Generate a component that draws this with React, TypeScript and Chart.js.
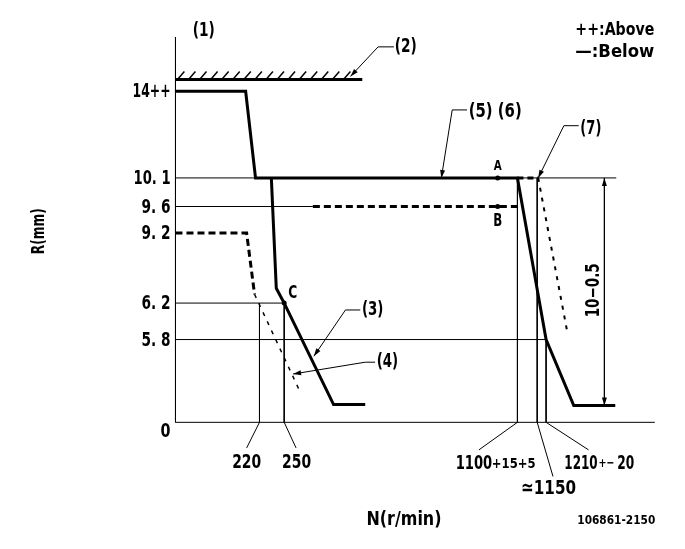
import React, { useEffect, useRef } from "react";
import { Chart, registerables } from "chart.js";

Chart.register(...registerables);

// Schematic diagram units: N position (horizontal) and R position (vertical)
// Full-load / governor curve (5)(6)
const mainN = [0, 71, 81, 346, 375, 403, 445];
const mainR = [336, 336, 248, 248, 84, 17, 17];
// Idle governor curve (3)
const idleN = [97, 102, 110, 160, 192];
const idleR = [248, 136, 121, 18, 18];
// Lower dashed curve (9.2)
const lowN = [0, 72, 80];
const lowR = [192, 192, 130];
// Thin dashed tail (4)
const tailN = [80, 127];
const tailR = [130, 29];
// 9.6 dashed plateau (B)
const midN = [139, 346];
const midR = [219, 219];
// dashed continuation at 10.1
const topDashN = [346, 367];
const topDashR = [248, 248];
// dashed curve (7)
const sevenN = [367, 396];
const sevenR = [248, 94];
// stopper (2)
const stopN = [0, 189];
const stopR = [348, 348];

// Reference levels on the R axis
const yTickLabels = ["14++", "10. 1", "9. 6", "9. 2", "6. 2", "5. 8", "0"];
const yTickPos = [335, 247.3, 218, 191.3, 120, 82.3, -10];
const yTickW = [38, 37, 29, 29, 29, 29, 10];

// horizontal guide lines: level and right end
const guideR = [248, 219, 121, 84];
const guideEnd = [446, 139, 110, 375];

// vertical guide lines: N position, top level
const vGuideN = [85, 110, 346, 366, 375];
const vGuideTop = [121, 121, 248, 248, 84];
const vLeaderN = [72, 122, 307, 382, 418];
const vLeaderR = [-26, -26, -28, -55, -28];

// marked points A, B, C
const markN = [326, 326, 110];
const markR = [248, 219, 121];

const FONT = '"DejaVu Sans Condensed", "DejaVu Sans", sans-serif';

type Lbl = { t: string; x: number; y: number; s: number; w?: number; a?: CanvasTextAlign; r?: boolean };

const labels: Lbl[] = [
  { t: "(1)", x: 28.7, y: 397.3, s: 19, w: 22 },
  { t: "(2)", x: 233, y: 381, s: 19, w: 22 },
  { t: "++:Above", x: 444.5, y: 398, s: 17, w: 79 },
  { t: "\u2014:Below", x: 444.5, y: 375, s: 17, w: 79 },
  { t: "(5) (6)", x: 323.5, y: 315, s: 19, w: 53 },
  { t: "(7)", x: 420.3, y: 297.3, s: 19, w: 21 },
  { t: "A", x: 326, y: 260, s: 14, w: 8 },
  { t: "B", x: 326, y: 204, s: 17, w: 9 },
  { t: "C", x: 118.7, y: 131, s: 17, w: 9 },
  { t: "(3)", x: 199.5, y: 114, s: 19, w: 21.5 },
  { t: "(4)", x: 214.5, y: 60.7, s: 19, w: 21.5 },
  { t: "220", x: 72, y: -41, s: 20, w: 29 },
  { t: "250", x: 122.5, y: -41, s: 20, w: 29 },
  { t: "1100", x: 302, y: -41.7, s: 20, w: 36.6 },
  { t: "+15+5", x: 342.2, y: -43, s: 14, w: 43.7 },
  { t: "1210", x: 410.3, y: -41.7, s: 20, w: 33.3 },
  { t: "+\u2212", x: 436, y: -42, s: 13, w: 16 },
  { t: "20", x: 455.5, y: -41.7, s: 20, w: 17 },
  { t: "\u22431150", x: 377.5, y: -67, s: 20, w: 55 },
  { t: "N(r/min)", x: 231.2, y: -99, s: 19, w: 75 },
  { t: "106861-2150", x: 446, y: -100, s: 13, w: 78 },
  { t: "R(mm)", x: -138, y: 194, s: 17, w: 46, r: true },
  { t: "10\u22120.5", x: 423.5, y: 134, s: 19, w: 54, r: true },
];

const pts = (xs: number[], ys: number[]) => xs.map((x, i) => ({ x, y: ys[i] }));

const line = (data: { x: number; y: number }[], w: number, dash: number[] = []) => ({
  data,
  showLine: true,
  borderColor: "#000",
  backgroundColor: "#000",
  borderWidth: w,
  borderDash: dash,
  pointRadius: 0,
  pointHoverRadius: 0,
  fill: false,
  tension: 0,
  clip: false as any,
  borderJoinStyle: "miter" as const,
  borderCapStyle: "butt" as const,
});

const annot = {
  id: "annot",
  afterDatasetsDraw(chart: any) {
    const { ctx, scales } = chart;
    const X = (v: number) => scales.x.getPixelForValue(v);
    const Y = (v: number) => scales.y.getPixelForValue(v);
    ctx.save();
    ctx.fillStyle = "#000";
    ctx.strokeStyle = "#000";

    // hatching over stopper (2)
    ctx.lineWidth = 1.5;
    for (let i = 0; i < 16; i++) {
      const n0 = 2 + i * 11.2;
      ctx.beginPath();
      ctx.moveTo(X(n0), Y(stopR[0]));
      ctx.lineTo(X(n0 + 7), Y(stopR[0] + 8));
      ctx.stroke();
    }

    // arrowheads
    const arrow = (tn: number, tr: number, fn: number, fr: number) => {
      const tx = X(tn), ty = Y(tr), fx = X(fn), fy = Y(fr);
      const ang = Math.atan2(ty - fy, tx - fx);
      const L = 8, H = 2.5;
      ctx.beginPath();
      ctx.moveTo(tx, ty);
      ctx.lineTo(tx - L * Math.cos(ang) + H * Math.sin(ang), ty - L * Math.sin(ang) - H * Math.cos(ang));
      ctx.lineTo(tx - L * Math.cos(ang) - H * Math.sin(ang), ty - L * Math.sin(ang) + H * Math.cos(ang));
      ctx.closePath();
      ctx.fill();
    };
    arrow(177, 351, 205, 381);
    arrow(269, 248, 280, 317);
    arrow(367, 248, 393, 301);
    arrow(140, 67, 172, 114);
    arrow(119, 49, 192, 61);
    arrow(434, 248, 434, 200);
    arrow(434, 17, 434, 60);

    // texts
    for (const l of labels) {
      ctx.save();
      ctx.translate(X(l.x), Y(l.y));
      if (l.r) ctx.rotate(-Math.PI / 2);
      ctx.font = `bold ${l.s}px ${FONT}`;
      const m = ctx.measureText(l.t).width;
      const sx = l.w ? l.w / m : 1;
      ctx.scale(sx, 1);
      ctx.textAlign = l.a || "center";
      ctx.textBaseline = "middle";
      ctx.fillText(l.t, 0, 0);
      ctx.restore();
    }
    yTickLabels.forEach((t, i) => {
      ctx.save();
      ctx.translate(X(-5), Y(yTickPos[i]));
      ctx.font = `bold 20px ${FONT}`;
      const m = ctx.measureText(t).width;
      ctx.scale(yTickW[i] / m, 1);
      ctx.textAlign = "right";
      ctx.textBaseline = "middle";
      ctx.fillText(t, 0, 0);
      ctx.restore();
    });
    ctx.restore();
  },
};

export default function App() {
  const ref = useRef<HTMLCanvasElement>(null);
  useEffect(() => {
    if (!ref.current) return;
    const datasets: any[] = [];
    // axes
    datasets.push(line(pts([0, 0], [391, 0]), 1));
    datasets.push(line(pts([0, 485], [0, 0]), 1));
    // horizontal guides
    guideR.forEach((r, i) => datasets.push(line(pts([0, guideEnd[i]], [r, r]), 1)));
    // vertical guides + leaders
    vGuideN.forEach((n, i) => {
      datasets.push(line(pts([n, n], [vGuideTop[i], 0]), 1));
      datasets.push(line(pts([n, vLeaderN[i]], [0, vLeaderR[i]]), 1));
    });
    // label leaders
    datasets.push(line(pts([177, 205, 221], [351, 381, 381]), 1));
    datasets.push(line(pts([269, 280, 295], [248, 317, 317]), 1));
    datasets.push(line(pts([367, 393, 408], [248, 301, 301]), 1));
    datasets.push(line(pts([140, 172, 187], [67, 114, 114]), 1));
    datasets.push(line(pts([119, 192, 202], [49, 61, 61]), 1));
    // dimension line
    datasets.push(line(pts([434, 434], [248, 17]), 1));
    // curves
    datasets.push(line(pts(stopN, stopR), 3));
    datasets.push(line(pts(mainN, mainR), 3));
    datasets.push(line(pts(idleN, idleR), 3));
    datasets.push(line(pts(lowN, lowR), 3, [7, 4]));
    datasets.push(line(pts(tailN, tailR), 1.5, [4, 6]));
    datasets.push(line(pts(midN, midR), 3, [7, 4]));
    datasets.push(line(pts(topDashN, topDashR), 3, [6, 4]));
    datasets.push(line(pts(sevenN, sevenR), 2, [4, 6]));
    // marks
    datasets.push({
      data: pts(markN, markR),
      showLine: false,
      pointRadius: 2.5,
      pointBackgroundColor: "#000",
      pointBorderWidth: 0,
      clip: false,
    });

    const chart = new Chart(ref.current, {
      type: "scatter",
      data: { datasets },
      options: {
        responsive: false,
        animation: false,
        events: [],
        layout: { padding: 0 },
        plugins: { legend: { display: false }, tooltip: { enabled: false } },
        scales: {
          x: { type: "linear", min: -173.5, max: 511.5, display: false },
          y: { type: "linear", min: -124.5, max: 424.5, display: false },
        },
      },
      plugins: [annot],
    });
    return () => chart.destroy();
  }, []);
  return (
    <div style={{ position: "absolute", left: 0, top: 0, width: 685, height: 549, background: "#fff" }}>
      <canvas ref={ref} width={685} height={549} />
    </div>
  );
}
